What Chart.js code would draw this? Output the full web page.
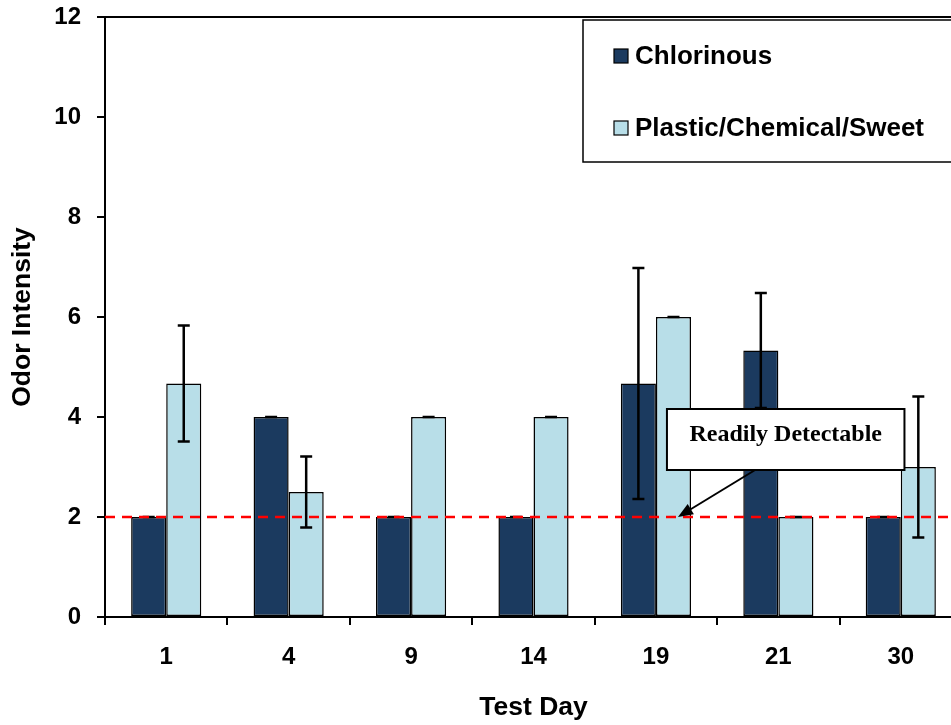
<!DOCTYPE html>
<html>
<head>
<meta charset="utf-8">
<script src="https://cdn.jsdelivr.net/npm/chart.js@4.4.0/dist/chart.umd.min.js"></script>
<style>
  html, body { margin: 0; padding: 0; background: #fff; overflow: hidden; }
  #wrap { width: 975px; height: 725px; }
</style>
</head>
<body>
<div id="wrap"><canvas id="myChart" width="975" height="725"></canvas></div>
<script>
// data
const days = ['1', '4', '9', '14', '19', '21', '30']
const chlorinous = [2, 4, 2, 2, 4.67, 5.33, 2]
const chlorinousErr = [0, 0, 0, 0, 2.31, 1.15, 0]
const plastic = [4.67, 2.5, 4, 4, 6, 2, 3]
const plasticErr = [1.16, 0.71, 0, 0, 0, 0, 1.41]
const yTicks = [0, 2, 4, 6, 8, 10, 12]
const threshold = 2
const noteText = 'Readily Detectable'

// annotation in data units (x = category index)
const note = { x1: 4.09, x2: 6.03, yTop: 4.16, yBottom: 2.94, fromX: 4.81, toX: 4.18 }

const SANS = '"Liberation Sans", Arial, sans-serif'
const darkBlue = '#1b3a5f'
const lightBlue = '#b8dee8'

// error bars
const errorBars = {
  id: 'errorBars',
  afterDatasetsDraw(chart) {
    const ctx = chart.ctx
    const y = chart.scales.y
    const errs = [chlorinousErr, plasticErr]
    ctx.save()
    ctx.strokeStyle = '#000'
    ctx.lineWidth = 2.5
    chart.data.datasets.forEach((ds, d) => {
      const meta = chart.getDatasetMeta(d)
      meta.data.forEach((bar, i) => {
        const v = ds.data[i]
        const e = errs[d][i]
        const yt = y.getPixelForValue(v + e)
        const yb = y.getPixelForValue(v - e)
        ctx.beginPath()
        ctx.moveTo(bar.x, yt); ctx.lineTo(bar.x, yb)
        ctx.moveTo(bar.x - 6, yt); ctx.lineTo(bar.x + 6, yt)
        ctx.moveTo(bar.x - 6, yb); ctx.lineTo(bar.x + 6, yb)
        ctx.stroke()
      })
    })
    ctx.restore()
  }
}

// frame top, threshold line, callout box, legend
const extras = {
  id: 'extras',
  afterDraw(chart) {
    const ctx = chart.ctx
    const a = chart.chartArea
    const x = chart.scales.x
    const y = chart.scales.y
    ctx.save()

    // top + right border of plot area
    ctx.strokeStyle = '#000'
    ctx.lineWidth = 2
    ctx.beginPath()
    ctx.moveTo(a.left, a.top); ctx.lineTo(a.right, a.top); ctx.lineTo(a.right, a.bottom)
    ctx.stroke()

    // red dashed line
    const ty = y.getPixelForValue(threshold)
    ctx.strokeStyle = '#ff0000'
    ctx.lineWidth = 2.5
    ctx.setLineDash([10, 7])
    ctx.beginPath()
    ctx.moveTo(a.left, ty); ctx.lineTo(a.right, ty)
    ctx.stroke()
    ctx.setLineDash([])

    // arrow
    const bx1 = x.getPixelForValue(note.x1), bx2 = x.getPixelForValue(note.x2)
    const by1 = y.getPixelForValue(note.yTop), by2 = y.getPixelForValue(note.yBottom)
    const sx = x.getPixelForValue(note.fromX), sy = by2
    const ex = x.getPixelForValue(note.toX), ey = ty
    const ang = Math.atan2(ey - sy, ex - sx)
    ctx.strokeStyle = '#000'
    ctx.fillStyle = '#000'
    ctx.lineWidth = 2
    ctx.beginPath()
    ctx.moveTo(sx, sy)
    ctx.lineTo(ex - 12 * Math.cos(ang), ey - 12 * Math.sin(ang))
    ctx.stroke()
    ctx.beginPath()
    ctx.moveTo(ex, ey)
    ctx.lineTo(ex - 15 * Math.cos(ang) + 6 * Math.sin(ang), ey - 15 * Math.sin(ang) - 6 * Math.cos(ang))
    ctx.lineTo(ex - 15 * Math.cos(ang) - 6 * Math.sin(ang), ey - 15 * Math.sin(ang) + 6 * Math.cos(ang))
    ctx.closePath()
    ctx.fill()

    // callout box
    ctx.fillStyle = '#fff'
    ctx.fillRect(bx1, by1, bx2 - bx1, by2 - by1)
    ctx.strokeRect(bx1, by1, bx2 - bx1, by2 - by1)
    ctx.fillStyle = '#000'
    ctx.font = 'bold 24px "Liberation Serif", "Times New Roman", serif'
    ctx.textAlign = 'center'
    ctx.textBaseline = 'middle'
    ctx.fillText(noteText, (bx1 + bx2) / 2, by1 + 26)

    // legend
    const lx = 583, ly = 20
    ctx.fillStyle = '#fff'
    ctx.fillRect(lx, ly, 420, 142)
    ctx.lineWidth = 1.5
    ctx.strokeRect(lx, ly, 420, 142)
    ctx.font = 'bold 26px ' + SANS
    ctx.textAlign = 'left'
    chart.data.datasets.forEach((ds, i) => {
      const cy = 56 + i * 72
      ctx.fillStyle = ds.backgroundColor
      ctx.fillRect(614, cy - 7, 14, 14)
      ctx.lineWidth = 1.2
      ctx.strokeStyle = '#000'
      ctx.strokeRect(614, cy - 7, 14, 14)
      ctx.fillStyle = '#000'
      ctx.fillText(ds.label, 635, cy + 1)
    })
    ctx.restore()
  }
}

const ctx = document.getElementById('myChart').getContext('2d')
const chart = new Chart(ctx, {
  type: 'bar',
  data: {
    labels: days,
    datasets: [{
      label: 'Chlorinous',
      data: chlorinous,
      backgroundColor: darkBlue,
      borderColor: '#000',
      borderWidth: 1.5,
      borderSkipped: false
    }, {
      label: 'Plastic/Chemical/Sweet',
      data: plastic,
      backgroundColor: lightBlue,
      borderColor: '#000',
      borderWidth: 1.5,
      borderSkipped: false
    }]
  },
  options: {
    responsive: false,
    animation: false,
    devicePixelRatio: 1,
    categoryPercentage: 0.573,
    barPercentage: 1,
    layout: { padding: { left: 0, top: 17, right: 13, bottom: 0 } },
    plugins: {
      legend: { display: false },
      tooltip: { enabled: false }
    },
    scales: {
      x: {
        offset: true,
        grid: { offset: true, drawOnChartArea: false, tickLength: 8, color: '#000', lineWidth: 2 },
        border: { color: '#000', width: 2 },
        ticks: { color: '#000', font: { family: SANS, size: 24, weight: 'bold' }, padding: 18 },
        title: {
          display: true, text: 'Test Day', color: '#000',
          font: { family: SANS, size: 26.5, weight: 'bold' },
          padding: { top: 0, bottom: 1 }
        },
        afterFit(scale) { scale.height = 108 }
      },
      y: {
        min: 0,
        max: 12,
        afterBuildTicks(scale) { scale.ticks = yTicks.map(v => ({ value: v })) },
        grid: { drawOnChartArea: false, tickLength: 8, color: '#000', lineWidth: 2 },
        border: { color: '#000', width: 2 },
        ticks: { color: '#000', font: { family: SANS, size: 24, weight: 'bold' }, padding: 16 },
        title: {
          display: true, text: 'Odor Intensity', color: '#000',
          font: { family: SANS, size: 26.5, weight: 'bold' },
          padding: { top: 7, bottom: 0 }
        },
        afterFit(scale) {
          scale.width = 105
          scale.paddingTop = 0
          scale.paddingBottom = 0
        }
      }
    }
  },
  plugins: [errorBars, extras]
})
</script>
</body>
</html>
